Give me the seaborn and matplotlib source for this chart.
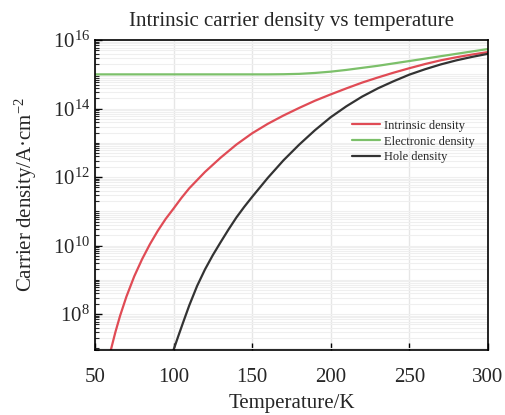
import numpy as np
import pandas as pd
import matplotlib
matplotlib.use("Agg")
import matplotlib.pyplot as plt
import matplotlib.ticker as mticker
import seaborn as sns

# ---- data ----
T_intrinsic = [58, 60, 63, 66, 70, 75, 80, 85, 90, 95, 100, 105, 110, 120, 130, 140, 150,
               160, 170, 180, 190, 200, 210, 220, 230, 240, 250, 260, 270, 280, 290, 300]
n_intrinsic = [3.4e6, 8.5e6, 2.95e7, 8.9e7, 3.2e8, 1.26e9, 4.0e9, 1.1e10, 2.7e10, 6.0e10,
               1.2e11, 2.45e11, 4.7e11, 1.41e12, 3.7e12, 8.9e12, 1.9e13,
               3.6e13, 6.3e13, 1.05e14, 1.7e14, 2.6e14, 3.9e14, 5.75e14, 8.1e14, 1.12e15,
               1.51e15, 2.0e15, 2.57e15, 3.16e15, 3.8e15, 4.47e15]

T_electron = [50, 100, 150, 160, 170, 180, 190, 200, 210, 220, 230, 240, 250, 260, 270,
              280, 290, 300]
n_electron = [1.0e15, 1.0e15, 1.0e15, 1.0e15, 1.01e15, 1.035e15, 1.1e15, 1.2e15, 1.35e15,
              1.55e15, 1.78e15, 2.09e15, 2.45e15, 2.88e15, 3.39e15, 3.98e15, 4.68e15, 5.5e15]

T_hole = [98, 100, 103, 106, 110, 115, 120, 125, 130, 135, 140, 145, 150, 160, 170, 180,
          190, 200, 210, 220, 230, 240, 250, 260, 270, 280, 290, 300]
n_hole = [4.7e6, 8.9e6, 2.24e7, 5.5e7, 1.78e8, 6.6e8, 2.0e9, 5.25e9, 1.26e10, 2.95e10,
          6.6e10, 1.35e11, 2.63e11, 9.5e11, 3.1e12, 8.9e12, 2.34e13, 5.6e13, 1.17e14,
          2.24e14, 3.9e14, 6.3e14, 9.8e14, 1.41e15, 1.95e15, 2.57e15, 3.24e15, 3.98e15]

series_names = ["Intrinsic density", "Electronic density", "Hole density"]
colors = ["#e04b55", "#7cc06a", "#333333"]

x_ticks = [50, 100, 150, 200, 250, 300]
y_ticks = [1e8, 1e10, 1e12, 1e14, 1e16]

df = pd.concat([
    pd.DataFrame({"T": T_intrinsic, "n": n_intrinsic, "series": series_names[0]}),
    pd.DataFrame({"T": T_electron, "n": n_electron, "series": series_names[1]}),
    pd.DataFrame({"T": T_hole, "n": n_hole, "series": series_names[2]}),
], ignore_index=True)

sns.set_style("ticks")
plt.rcParams["font.family"] = ["Liberation Serif", "DejaVu Serif"]
plt.rcParams["mathtext.fontset"] = "custom"
plt.rcParams["mathtext.rm"] = "Liberation Serif"
plt.rcParams["mathtext.it"] = "Liberation Serif:italic"

fig = plt.figure(figsize=(5.05, 4.15), dpi=100)
ax = fig.add_axes([0.188, 0.157, 0.778, 0.747])

sns.lineplot(data=df, x="T", y="n", hue="series", hue_order=series_names,
             palette=colors, linewidth=1.6, ax=ax, sort=False, estimator=None)

ax.set_yscale("log")
ax.set_xlim(50, 300)
ax.set_ylim(9e6, 1.02e16)
ax.set_xticks(x_ticks)
ax.yaxis.set_major_locator(mticker.FixedLocator(y_ticks))
ax.yaxis.set_major_formatter(mticker.LogFormatterSciNotation())
ax.yaxis.set_minor_locator(mticker.LogLocator(base=10, subs=np.arange(1, 10), numticks=100))
ax.yaxis.set_minor_formatter(mticker.NullFormatter())

ax.tick_params(axis="both", which="major", direction="in", length=5, width=1.0,
               labelsize=15, color="black")
ax.tick_params(axis="y", which="minor", direction="in", length=3, width=0.8)
ax.tick_params(axis="x", pad=13)

ax.grid(True, which="major", axis="x", color="#e6e6e6", linewidth=1.0)
ax.grid(True, which="both", axis="y", color="#efefef", linewidth=0.8)
ax.set_axisbelow(True)

for s in ax.spines.values():
    s.set_color("black")
    s.set_linewidth(1.2)

ax.set_title("Intrinsic carrier density vs temperature", fontsize=15, pad=10)
ax.set_xlabel("Temperature/K", fontsize=15, labelpad=5)
ax.set_ylabel("Carrier density/A·cm$^{-2}$", fontsize=15, labelpad=10)

leg = ax.legend(loc="upper left", bbox_to_anchor=(0.655, 0.742), frameon=False,
                fontsize=9, handlelength=2.2, handletextpad=0.3, labelspacing=0.3,
                borderpad=0, borderaxespad=0)
for line in leg.get_lines():
    line.set_linewidth(1.6)

fig.savefig("out.png", dpi=100)
